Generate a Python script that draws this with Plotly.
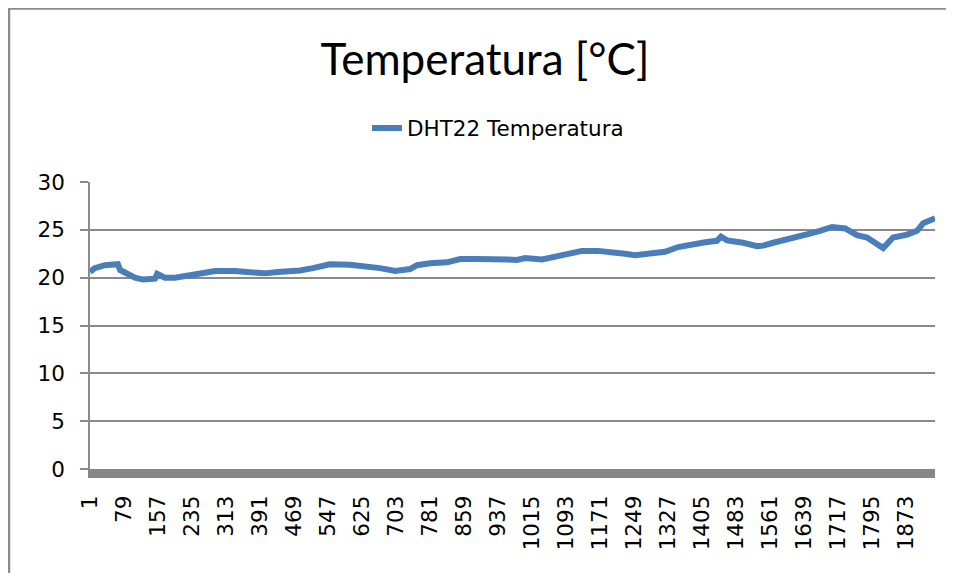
import plotly.graph_objects as go

# Sample indices (category numbers) and temperature readings [°C]
sample_idx = [1, 12, 35, 58, 65, 70, 81, 104, 123, 143, 150, 155, 166, 173, 196, 219, 249,
              288, 334, 379, 402, 432, 483, 512, 551, 597, 636, 666, 701, 735, 751, 781,
              820, 850, 889, 925, 957, 980, 999, 1038, 1074, 1097, 1129, 1166, 1198, 1228,
              1251, 1281, 1320, 1350, 1382, 1412, 1439, 1448, 1462, 1476, 1499, 1531, 1545,
              1568, 1600, 1629, 1652, 1675, 1703, 1733, 1760, 1783, 1801, 1820, 1843, 1875,
              1898, 1912, 1939]
temperature = [20.6, 21.0, 21.3, 21.4, 21.4, 20.8, 20.5, 20.0, 19.8, 19.8, 19.9, 20.4, 20.2,
               20.0, 20.0, 20.2, 20.4, 20.7, 20.7, 20.55, 20.45, 20.6, 20.75, 21.0, 21.4,
               21.35, 21.2, 21.0, 20.7, 20.9, 21.3, 21.5, 21.6, 21.95, 21.95, 22.0, 21.9,
               21.85, 22.05, 21.9, 22.2, 22.55, 22.8, 22.8, 22.7, 22.5, 22.35, 22.5, 22.7,
               23.2, 23.5, 23.7, 23.85, 24.3, 23.9, 23.85, 23.65, 23.3, 23.35, 23.65, 24.0,
               24.2, 24.6, 24.9, 25.3, 25.15, 24.45, 24.2, 23.65, 23.1, 24.2, 24.5, 24.9,
               25.7, 26.2]

x_ticks = list(range(1, 1874, 78))
y_ticks = [0, 5, 10, 15, 20, 25, 30]

LABEL_FONT = "DejaVu Sans"
TITLE_FONT = "Lato"
GRID = "#8a8a8a"
FRAME = "#8c8c8c"

# page body has an 8px margin; figure coordinates are offset accordingly
W, H = 946, 565
L, R, T, B = 82, 19, 174, 104
PW = W - L - R
PH = H - T - B


def px(x):
    return (x - L) / PW


def py(y):
    return (H - B - y) / PH


fig = go.Figure()
fig.add_trace(go.Scatter(
    x=sample_idx, y=temperature, mode="lines", name="DHT22 Temperatura",
    line=dict(color="#4A7EBB", width=6),
))

fig.update_layout(
    width=W, height=H,
    margin=dict(l=L, r=R, t=T, b=B),
    paper_bgcolor="white", plot_bgcolor="white",
    font=dict(family=LABEL_FONT, color="black", size=21),
    title=dict(text="Temperatura [°C]", x=477 / W, xanchor="center", xref="container",
               y=1 - 52 / H, yanchor="middle", yref="container",
               font=dict(size=44, family=TITLE_FONT, color="black")),
    showlegend=True,
    legend=dict(orientation="h", x=px(490), xanchor="center", y=py(120), yanchor="middle",
                font=dict(size=21.5, family=LABEL_FONT), bgcolor="rgba(0,0,0,0)"),
    xaxis=dict(range=[1, 1939], tickmode="array", tickvals=x_ticks,
               ticktext=[str(v) for v in x_ticks], tickangle=-90,
               showgrid=False, zeroline=False, showline=True, linewidth=9,
               linecolor="#878787", ticks="", ticklabelstandoff=9,
               tickfont=dict(size=21.5, family=LABEL_FONT)),
    yaxis=dict(range=[0, 30], tickmode="array", tickvals=y_ticks,
               showgrid=True, gridcolor=GRID, gridwidth=1.5, zeroline=False,
               showline=True, linecolor=GRID, linewidth=1.5,
               ticks="outside", ticklen=8, tickcolor=GRID, tickwidth=1.5,
               ticklabelstandoff=11, tickfont=dict(size=21.5, family=LABEL_FONT)),
    shapes=[
        dict(type="line", xref="paper", yref="paper",
             x0=px(0), x1=px(W + 10), y0=py(0.5), y1=py(0.5),
             line=dict(color=FRAME, width=2.5)),
        dict(type="line", xref="paper", yref="paper",
             x0=px(1), x1=px(1), y0=py(0), y1=py(H + 10),
             line=dict(color=FRAME, width=2.5)),
    ],
)

fig.write_html("out.html", config={"displayModeBar": False})
